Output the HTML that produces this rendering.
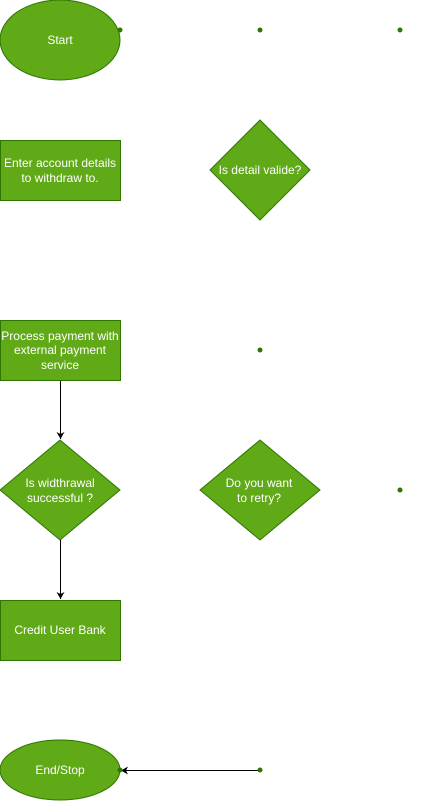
<!DOCTYPE html>
<html><head><style>body{margin:0;background:#fff}svg{display:block}text{font-family:"Liberation Sans",Arial,sans-serif;font-size:12px;fill:#fff;text-anchor:middle}</style></head><body>
<svg width="421" height="801" viewBox="0 0 421 801" xmlns="http://www.w3.org/2000/svg">
<defs><marker id="a" markerWidth="8" markerHeight="8" refX="7" refY="4" orient="auto" markerUnits="userSpaceOnUse"><path d="M0,0 L7,4 L0,8 L2,4 Z" fill="#000"/></marker></defs>
<g fill="#60a917" stroke="#2d7600" stroke-width="1">
<ellipse cx="60" cy="40" rx="60" ry="40"/>
<rect x="0.5" y="140.5" width="120" height="60"/>
<path d="M260,120 L310,170 L260,220 L210,170 Z"/>
<rect x="0.5" y="320.5" width="120" height="60"/>
<path d="M60,440 L120,490 L60,540 L0,490 Z"/>
<path d="M260,440 L320,490 L260,540 L200,490 Z"/>
<rect x="0.5" y="600.5" width="120" height="60"/>
<ellipse cx="60" cy="770" rx="60" ry="30"/>
</g>
<g stroke="#000" stroke-width="1" fill="none">
<line x1="60.5" y1="381" x2="60.5" y2="439" marker-end="url(#a)"/>
<line x1="60.5" y1="540" x2="60.5" y2="599" marker-end="url(#a)"/>
<line x1="260" y1="770.5" x2="121" y2="770.5" marker-end="url(#a)"/>
</g>
<g fill="#2d7600">
<circle cx="120" cy="30" r="2.5"/><circle cx="260" cy="30" r="2.5"/><circle cx="400" cy="30" r="2.5"/>
<circle cx="260" cy="350" r="2.5"/><circle cx="400" cy="490" r="2.5"/><circle cx="260" cy="770" r="2.5"/><circle cx="120" cy="770" r="2.5"/>
</g>
<text x="60" y="44">Start</text>
<text x="60" y="167">Enter account details</text>
<text x="60" y="182">to withdraw to.</text>
<text x="260" y="174">Is detail valide?</text>
<text x="60" y="340">Process payment with</text>
<text x="60" y="354">external payment</text>
<text x="60" y="369">service</text>
<text x="60" y="487">Is widthrawal</text>
<text x="60" y="502">successful ?</text>
<text x="259" y="487">Do you want</text>
<text x="259" y="502">to retry?</text>
<text x="60" y="634">Credit User Bank</text>
<text x="60" y="774">End/Stop</text>
</svg>
</body></html>
